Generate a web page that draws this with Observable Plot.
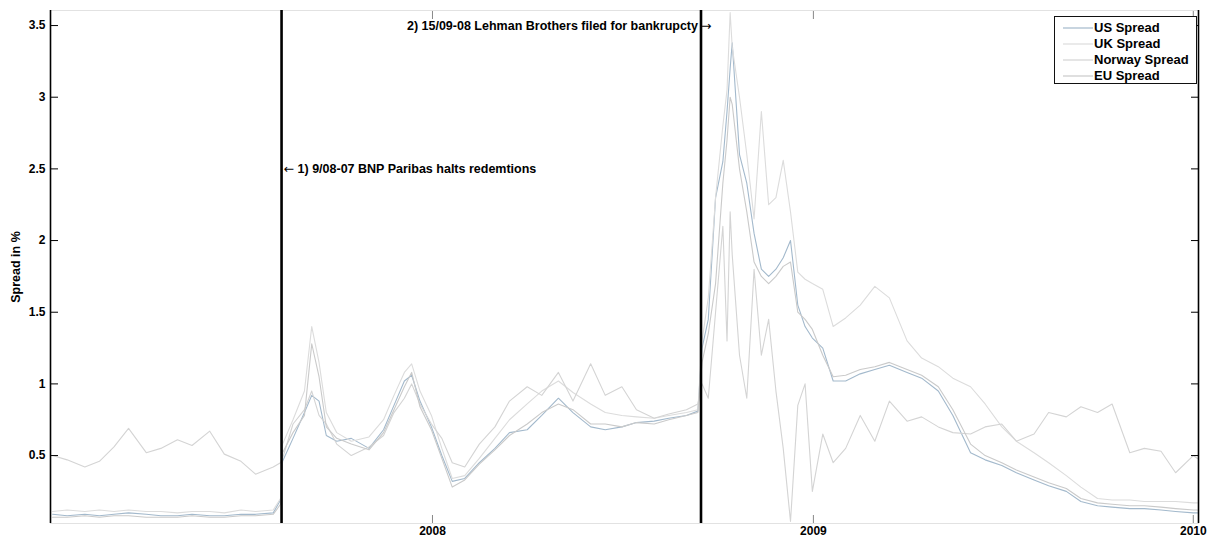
<!DOCTYPE html>
<html><head><meta charset="utf-8">
<script src="https://cdn.jsdelivr.net/npm/d3@7"></script>
<script src="https://cdn.jsdelivr.net/npm/@observablehq/plot@0.6"></script>
<style>
html,body{margin:0;padding:0;background:#fff;}
#chart{position:relative;width:1209px;height:537px;font-family:"Liberation Sans",Arial,sans-serif;}
#legend{position:absolute;left:1054px;top:16px;width:143px;height:68px;border:1.5px solid #111;background:#fff;font-size:13px;font-weight:bold;color:#000;box-sizing:border-box;}
#legend .row{position:absolute;left:0;height:16px;line-height:16px;white-space:nowrap;}
#legend svg{position:absolute;left:8px;top:0;}
#legend span{position:absolute;left:39px;top:0;}
</style></head>
<body>
<div id="chart"></div>
<script>
// ---------- data ----------
const seriesNames = ["US Spread", "UK Spread", "Norway Spread", "EU Spread"];
const seriesColors = ["#a3b9cc", "#dcdcdc", "#d4d4d4", "#cacaca"];

const dates = [
  "2007-01-01","2007-01-15","2007-02-01","2007-02-15","2007-03-01","2007-03-15","2007-04-01","2007-04-15",
  "2007-05-01","2007-05-15","2007-06-01","2007-06-15","2007-07-01","2007-07-15","2007-08-01","2007-08-08",
  "2007-08-10","2007-08-20","2007-08-31","2007-09-07","2007-09-14","2007-09-21","2007-10-01","2007-10-15",
  "2007-11-01","2007-11-15","2007-11-25","2007-12-05","2007-12-12","2007-12-20","2007-12-31",
  "2008-01-10","2008-01-20","2008-02-01","2008-02-15","2008-03-01","2008-03-15","2008-04-01","2008-04-15",
  "2008-05-01","2008-05-15","2008-06-01","2008-06-15","2008-07-01","2008-07-15","2008-08-01","2008-08-15",
  "2008-09-01","2008-09-12","2008-09-16","2008-09-22","2008-09-29","2008-10-06","2008-10-10","2008-10-13",
  "2008-10-15","2008-10-22","2008-10-29","2008-11-05","2008-11-12","2008-11-19","2008-11-26","2008-12-03",
  "2008-12-10","2008-12-17","2008-12-24","2008-12-31",
  "2009-01-10","2009-01-20","2009-02-01","2009-02-15","2009-03-01","2009-03-15","2009-04-01","2009-04-15",
  "2009-05-01","2009-05-15","2009-06-01","2009-06-15","2009-07-01","2009-07-15","2009-08-01","2009-08-15",
  "2009-09-01","2009-09-15","2009-10-01","2009-10-15","2009-11-01","2009-11-15","2009-12-01","2009-12-15",
  "2010-01-01","2010-01-05"
];

const usSpread = [
  0.09,0.08,0.09,0.08,0.09,0.10,0.09,0.08, 0.08,0.09,0.08,0.08,0.09,0.09,0.10,0.19,
  0.46,0.62,0.80,0.92,0.88,0.64,0.60,0.62, 0.55,0.68,0.85,1.02,1.06,0.88,0.70,
  0.50,0.32,0.34,0.45,0.55,0.66,0.68,0.78, 0.90,0.80,0.70,0.68,0.70,0.73,0.74,0.76,
  0.78,0.81,1.25,1.45,2.30,2.55,2.90,3.20, 3.38,2.60,2.40,2.05,1.80,1.75,1.80,1.88,
  2.00,1.55,1.40,1.32,
  1.25,1.02,1.02,1.07,1.10,1.13,1.08,1.04, 0.95,0.78,0.52,0.47,0.43,0.38,0.33,0.29,
  0.25,0.18,0.15,0.14,0.13,0.13,0.12,0.11, 0.10,0.10
];
const ukSpread = [
  0.11,0.12,0.11,0.12,0.11,0.12,0.11,0.11, 0.10,0.11,0.11,0.10,0.12,0.11,0.12,0.20,
  0.58,0.75,0.95,1.40,1.15,0.80,0.66,0.60, 0.63,0.75,0.92,1.08,1.14,0.95,0.78,
  0.55,0.34,0.36,0.48,0.62,0.75,0.86,0.95, 1.02,0.94,0.86,0.80,0.78,0.77,0.76,0.78,
  0.80,0.82,1.30,1.60,2.30,2.80,3.05,3.59, 3.35,3.00,2.60,2.15,2.90,2.25,2.30,2.56,
  2.20,1.78,1.73,1.70,
  1.66,1.40,1.46,1.55,1.68,1.60,1.30,1.18, 1.12,1.04,0.98,0.86,0.70,0.60,0.52,0.45,
  0.36,0.28,0.20,0.19,0.19,0.18,0.18,0.18, 0.17,0.17
];
const norwaySpread = [
  0.50,0.47,0.42,0.46,0.56,0.69,0.52,0.55, 0.61,0.57,0.67,0.51,0.46,0.37,0.42,0.45,
  0.48,0.72,0.82,0.95,0.78,0.72,0.58,0.50, 0.56,0.64,0.80,0.90,1.00,0.86,0.72,
  0.62,0.45,0.42,0.58,0.70,0.88,0.98,0.92, 1.08,0.88,1.14,0.92,0.98,0.82,0.76,0.79,
  0.82,0.86,1.00,0.90,1.50,2.10,1.30,2.20, 1.90,1.20,0.90,1.80,1.20,1.45,0.95,0.55,
  0.04,0.85,1.00,0.25,
  0.65,0.45,0.55,0.78,0.60,0.88,0.74,0.77, 0.70,0.66,0.65,0.70,0.72,0.60,0.65,0.80,
  0.77,0.84,0.80,0.86,0.52,0.55,0.53,0.38, 0.50,0.48
];
const euSpread = [
  0.07,0.07,0.08,0.07,0.08,0.08,0.07,0.07, 0.07,0.08,0.07,0.07,0.08,0.08,0.09,0.16,
  0.52,0.66,0.78,1.28,1.05,0.70,0.62,0.58, 0.54,0.66,0.82,0.98,1.08,0.84,0.68,
  0.48,0.28,0.33,0.44,0.54,0.64,0.72,0.80, 0.86,0.82,0.72,0.72,0.70,0.73,0.72,0.75,
  0.78,0.80,1.15,1.35,1.70,2.40,2.70,3.00, 2.95,2.50,2.20,1.85,1.75,1.70,1.75,1.82,
  1.85,1.50,1.45,1.38,
  1.20,1.05,1.06,1.10,1.12,1.15,1.10,1.06, 0.98,0.82,0.58,0.50,0.45,0.40,0.35,0.31,
  0.27,0.20,0.17,0.16,0.15,0.15,0.14,0.13, 0.12,0.12
];

const yTicks = [0.5, 1, 1.5, 2, 2.5, 3, 3.5];
const xTickYears = [2008, 2009, 2010];
const eventDates = ["2007-08-09", "2008-09-15"];
const eventLabels = ["1) 9/08-07 BNP Paribas halts redemtions", "2) 15/09-08 Lehman Brothers filed for bankrupcty"];
const eventArrows = ["\u2190", "\u2192"];
const eventLabelY = [2.5, 3.5];
const axisLabel = "Spread in %";

// ---------- build ----------
const parse = d3.utcParse("%Y-%m-%d");
const valueArrays = [usSpread, ukSpread, norwaySpread, euSpread];
const rows = seriesNames.flatMap((name, i) =>
  dates.map((d, j) => ({series: name, date: parse(d), value: valueArrays[i][j]})));
const xDomain = [parse("2006-12-30"), parse("2010-01-06")];
const xTicks = xTickYears.map(y => new Date(Date.UTC(y, 0, 1)));
const events = eventDates.map((d, i) => ({date: parse(d), label: eventLabels[i], arrow: eventArrows[i], y: eventLabelY[i]}));
const font = "'Liberation Sans', Arial, sans-serif";
const arrowFont = "'DejaVu Sans', sans-serif";

const chart = Plot.plot({
  width: 1209, height: 537,
  marginLeft: 50, marginRight: 11, marginTop: 10, marginBottom: 14,
  style: {fontFamily: font, fontSize: "12px", fontWeight: "bold", color: "#000", background: "#fff", overflow: "visible"},
  x: {type: "utc", domain: xDomain, label: null},
  y: {domain: [0.026, 3.605], label: null},
  color: {domain: seriesNames, range: seriesColors},
  marks: [
    Plot.frame({stroke: "#e2e2e2"}),
    Plot.lineY(rows, {x: "date", y: "value", z: "series", stroke: "series", strokeWidth: 1.1}),
    Plot.ruleX(events, {x: "date", stroke: "#000", strokeWidth: 2.6}),
    Plot.ruleX(xDomain, {stroke: "#000", strokeWidth: 1.6}),
    // BNP annotation: arrow then label to the right of the line
    Plot.text(events.slice(0, 1), {x: "date", y: "y", text: "arrow", textAnchor: "start", dx: 2, fontSize: 12.5, fontFamily: arrowFont, fontWeight: "normal", fill: "#000"}),
    Plot.text(events.slice(0, 1), {x: "date", y: "y", text: "label", textAnchor: "start", dx: 16, fontSize: 12.5, fill: "#000"}),
    // Lehman annotation: label to the left, arrow across the line
    Plot.text(events.slice(1), {x: "date", y: "y", text: "label", textAnchor: "end", dx: -3, fontSize: 12.5, fill: "#000"}),
    Plot.text(events.slice(1), {x: "date", y: "y", text: "arrow", textAnchor: "start", dx: 0, fontSize: 12.5, fontFamily: arrowFont, fontWeight: "normal", fill: "#000"}),
    Plot.axisY(yTicks, {anchor: "left", tickSize: -8, tickPadding: 13, tickFormat: d => String(d), fontSize: 12, stroke: "#000"}),
    Plot.axisY(yTicks, {anchor: "right", tickSize: -8, tickFormat: () => "", stroke: "#000"}),
    Plot.axisX(xTicks, {anchor: "bottom", tickSize: -8, tickPadding: 11, tickFormat: d3.utcFormat("%Y"), fontSize: 12, stroke: "#888"}),
    Plot.axisX(xTicks, {anchor: "top", tickSize: -8, tickFormat: () => "", stroke: "#888"}),
    Plot.text([axisLabel], {frameAnchor: "left", dx: -35, textAnchor: "middle", rotate: -90, text: d => d, fontSize: 12.5, fill: "#000"})
  ]
});
document.getElementById("chart").appendChild(chart);

// legend
const legend = document.createElement("div");
legend.id = "legend";
seriesNames.forEach((name, i) => {
  const row = document.createElement("div");
  row.className = "row";
  row.style.top = (3 + i * 16) + "px";
  row.style.width = "140px";
  row.innerHTML = `<svg width="30" height="16"><line x1="0" x2="30" y1="8" y2="8" stroke="${seriesColors[i]}" stroke-width="1.2"/></svg><span>${name}</span>`;
  legend.appendChild(row);
});
document.getElementById("chart").appendChild(legend);
</script>
</body></html>
